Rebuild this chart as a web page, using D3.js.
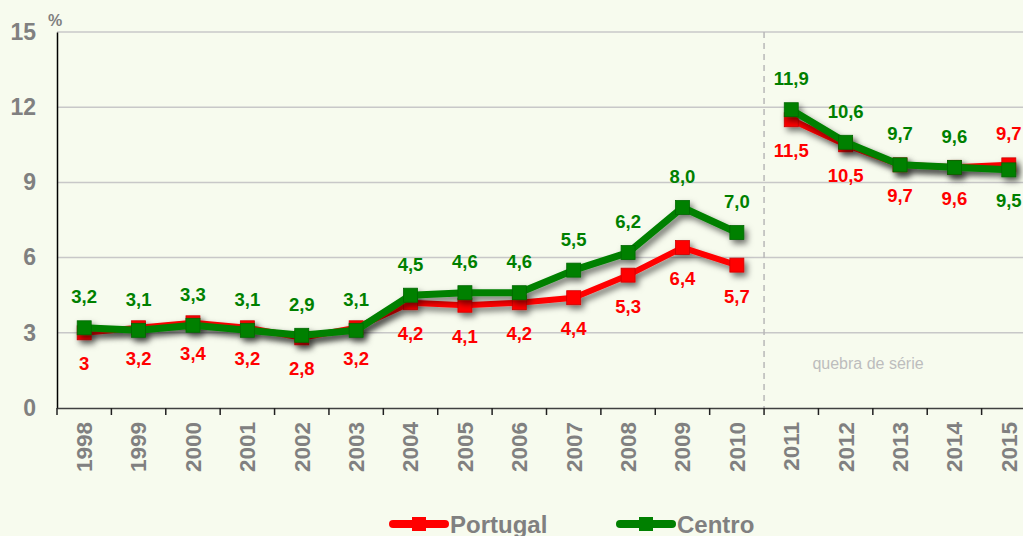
<!DOCTYPE html>
<html>
<head>
<meta charset="utf-8">
<script src="https://cdn.jsdelivr.net/npm/d3@7"></script>
<style>
    body { margin: 0; background: #f7fbee; }
    #canvas { width: 1023px; height: 536px; overflow: hidden; }
    text { font-family: "Liberation Sans", Arimo, sans-serif; }
</style>
</head>
<body>
<div id="canvas"></div>
<script>
var years = ['1998', '1999', '2000', '2001', '2002', '2003', '2004', '2005', '2006',
             '2007', '2008', '2009', '2010', '2011', '2012', '2013', '2014', '2015'];
var portugal = [3.0, 3.2, 3.4, 3.2, 2.8, 3.2, 4.2, 4.1, 4.2, 4.4, 5.3, 6.4, 5.7,
                11.5, 10.5, 9.7, 9.6, 9.7];
var centro = [3.2, 3.1, 3.3, 3.1, 2.9, 3.1, 4.5, 4.6, 4.6, 5.5, 6.2, 8.0, 7.0,
              11.9, 10.6, 9.7, 9.6, 9.5];
var portugalLabels = ['3', '3,2', '3,4', '3,2', '2,8', '3,2', '4,2', '4,1', '4,2',
                      '4,4', '5,3', '6,4', '5,7', '11,5', '10,5', '9,7', '9,6', '9,7'];
var centroLabels = ['3,2', '3,1', '3,3', '3,1', '2,9', '3,1', '4,5', '4,6', '4,6',
                    '5,5', '6,2', '8,0', '7,0', '11,9', '10,6', '9,7', '9,6', '9,5'];
var yTicks = [0, 3, 6, 9, 12, 15];
var breakAfter = '2010';
var breakLabel = 'quebra de série';

var series = [
    {name: 'Portugal', values: portugal, labels: portugalLabels, color: '#ff0000', width: 6, side: 1, flip: ['2015']},
    {name: 'Centro', values: centro, labels: centroLabels, color: '#008000', width: 7, side: -1, flip: ['2015']}
];

var width = 1023, height = 536;
var svg = d3.select('#canvas').append('svg')
    .attr('width', width)
    .attr('height', height);

var defs = svg.append('defs');
var shadow = defs.append('filter')
    .attr('id', 'shadow')
    .attr('x', '-10%').attr('y', '-30%')
    .attr('width', '130%').attr('height', '180%');
shadow.append('feDropShadow')
    .attr('dx', 3).attr('dy', 4)
    .attr('stdDeviation', 3)
    .attr('flood-color', '#000')
    .attr('flood-opacity', 0.55);

var x = d3.scaleBand().domain(years).range([57, 1036]);
var y = d3.scaleLinear().domain([0, 15]).range([408, 32]);
var cx = function(d) { return x(d) + x.bandwidth() / 2; };

/* grelha horizontal */
svg.append('g').selectAll('line')
    .data(yTicks.filter(function(t) { return t > 0; }))
    .enter().append('line')
    .attr('x1', 57).attr('x2', width)
    .attr('y1', function(d) { return y(d); })
    .attr('y2', function(d) { return y(d); })
    .attr('stroke', '#c8c8c8')
    .attr('stroke-width', 1.5);

/* linha de quebra de série */
var bx = x(breakAfter) + x.bandwidth();
svg.append('line')
    .attr('x1', bx).attr('x2', bx)
    .attr('y1', y(15)).attr('y2', y(0))
    .attr('stroke', '#b8b8b8')
    .attr('stroke-width', 1.5)
    .attr('stroke-dasharray', '6,5');
svg.append('text')
    .attr('x', 868).attr('y', 369)
    .attr('text-anchor', 'middle')
    .attr('font-size', 16)
    .attr('fill', '#bdbdbd')
    .text(breakLabel);

/* eixo Y */
var yAxis = svg.append('g')
    .attr('transform', 'translate(57,0)')
    .call(d3.axisLeft(y).tickValues(yTicks).tickSize(0).tickPadding(21));
yAxis.select('.domain').attr('stroke', '#000').attr('stroke-width', 1.5);
yAxis.selectAll('text')
    .attr('font-size', 23)
    .attr('font-weight', 'bold')
    .attr('fill', '#808080');

svg.append('text')
    .attr('x', 48).attr('y', 26)
    .attr('font-size', 16)
    .attr('font-weight', 'bold')
    .attr('fill', '#808080')
    .text('%');

/* eixo X */
var xAxis = svg.append('g')
    .attr('transform', 'translate(0,408)')
    .call(d3.axisBottom(x).tickSize(0).tickPadding(0));
xAxis.select('.domain').attr('stroke', '#404040').attr('stroke-width', 1.5);
xAxis.selectAll('.tick line').remove();
xAxis.append('g').selectAll('line')
    .data(years)
    .enter().append('line')
    .attr('x1', function(d) { return x(d); })
    .attr('x2', function(d) { return x(d); })
    .attr('y1', 0).attr('y2', 7)
    .attr('stroke', '#202020')
    .attr('stroke-width', 1.5);
xAxis.selectAll('.tick text')
    .attr('font-size', 22.5)
    .attr('font-weight', 'bold')
    .attr('fill', '#808080')
    .attr('text-anchor', 'end')
    .attr('dy', '0.35em')
    .attr('transform', 'translate(0,14) rotate(-90)')
    .attr('x', 0).attr('y', 0);

/* séries */
var line = d3.line()
    .x(function(d) { return cx(d.year); })
    .y(function(d) { return y(d.v); });

var breakIndex = years.indexOf(breakAfter);

series.forEach(function(s) {
    var pts = years.map(function(yr, i) { return {year: yr, v: s.values[i], i: i}; });
    var parts = [pts.slice(0, breakIndex + 1), pts.slice(breakIndex + 1)];
    var g = svg.append('g').attr('filter', 'url(#shadow)');
    parts.forEach(function(p) {
        g.append('path')
            .datum(p)
            .attr('d', line)
            .attr('fill', 'none')
            .attr('stroke', s.color)
            .attr('stroke-width', s.width)
            .attr('stroke-linejoin', 'round');
    });
    var size = 14;
    g.selectAll('rect')
        .data(pts)
        .enter().append('rect')
        .attr('x', function(d) { return cx(d.year) - size / 2; })
        .attr('y', function(d) { return y(d.v) - size / 2; })
        .attr('width', size).attr('height', size)
        .attr('fill', s.color)
        .attr('stroke', d3.color(s.color).darker(0.6))
        .attr('stroke-width', 0.8);
    s.pts = pts;
});

series.forEach(function(s) {
    svg.append('g').selectAll('text')
        .data(s.pts)
        .enter().append('text')
        .attr('x', function(d) { return cx(d.year); })
        .attr('y', function(d) {
            var side = s.flip.indexOf(d.year) >= 0 ? -s.side : s.side;
            return y(d.v) + side * 31;
        })
        .attr('dy', '0.35em')
        .attr('text-anchor', 'middle')
        .attr('font-size', 18.5)
        .attr('font-weight', 'bold')
        .attr('fill', s.color)
        .text(function(d) { return s.labels[d.i]; });
});

/* legenda */
var legendX = [390, 617];
series.forEach(function(s, i) {
    var lg = svg.append('g').attr('transform', 'translate(' + legendX[i] + ',524)');
    lg.append('line')
        .attr('x1', 3).attr('x2', 55)
        .attr('y1', 0).attr('y2', 0)
        .attr('stroke', s.color)
        .attr('stroke-width', 8)
        .attr('stroke-linecap', 'round');
    lg.append('rect')
        .attr('x', 22).attr('y', -7)
        .attr('width', 14).attr('height', 14)
        .attr('fill', s.color);
    lg.append('text')
        .attr('x', 60).attr('y', 1)
        .attr('dy', '0.35em')
        .attr('font-size', 24)
        .attr('font-weight', 'bold')
        .attr('fill', '#808080')
        .text(s.name);
});
</script>
</body>
</html>
